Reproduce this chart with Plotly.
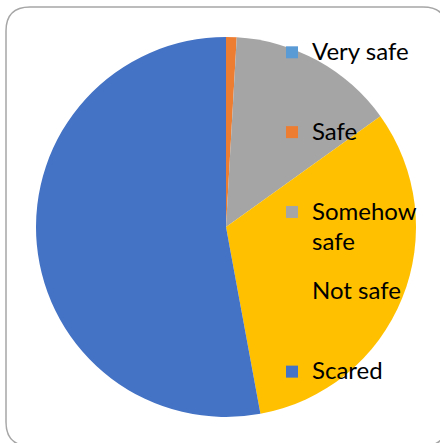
import plotly.graph_objects as go

categories = ["Very safe", "Safe", "Somehow<br>safe", "Not safe", "Scared"]
values = [0, 0.9, 14.2, 32.0, 52.9]
colors = ["#5B9BD5", "#ED7D31", "#A5A5A5", "#FFC000", "#4472C4"]

W, H = 440, 443
span = '<span style="font-size:24px">{}</span>'
span2 = '<span style="font-size:24px;baseline-shift:-5px">{}</span>'
def lab(t, pad):
    parts = t.split("<br>")
    out = [span.format(parts[0])] + [span2.format(p) for p in parts[1:]]
    return "<br>".join(out) + "<br> " * pad

legend_labels = [lab(categories[0], 2), lab(categories[1], 2), lab(categories[2], 1),
                 lab(categories[3], 2), lab(categories[4], 0)]

fig = go.Figure(go.Pie(
    labels=legend_labels,
    values=values,
    marker=dict(colors=colors, line=dict(width=0)),
    sort=False,
    direction="clockwise",
    rotation=0,
    textinfo="none",
    hoverinfo="value",
    domain=dict(x=[36 / W, 416 / W], y=[1 - 417 / H, 1 - 37 / H]),
    showlegend=True,
))

# rounded chart-area border
x0, y0, x1, y1, r = 6 / W, 1 - 7 / H, 447 / W, 1 - 446 / H, 24
rx, ry = r / W, r / H
path = (f"M {x0+rx},{y0} L {x1-rx},{y0} Q {x1},{y0} {x1},{y0-ry} "
        f"L {x1},{y1+ry} Q {x1},{y1} {x1-rx},{y1} L {x0+rx},{y1} "
        f"Q {x0},{y1} {x0},{y1+ry} L {x0},{y0-ry} Q {x0},{y0} {x0+rx},{y0} Z")

fig.update_layout(
    width=W, height=H,
    margin=dict(l=0, r=0, t=0, b=0),
    paper_bgcolor="white",
    font=dict(family="Lato, Carlito, Calibri, sans-serif", color="black"),
    legend=dict(
        x=272 / W, y=1 - 33 / H, xanchor="left", yanchor="top",
        font=dict(size=19.7, color="black"),
        bgcolor="rgba(0,0,0,0)",
        valign="top",
        traceorder="normal",
    ),
    shapes=[dict(type="path", path=path, xref="paper", yref="paper",
                 line=dict(color="#A6A6A6", width=1.5), layer="above")],
)

fig.write_html("out.html", config={"displayModeBar": False},
               post_script="document.body.style.margin='0';document.body.style.overflow='hidden';")
